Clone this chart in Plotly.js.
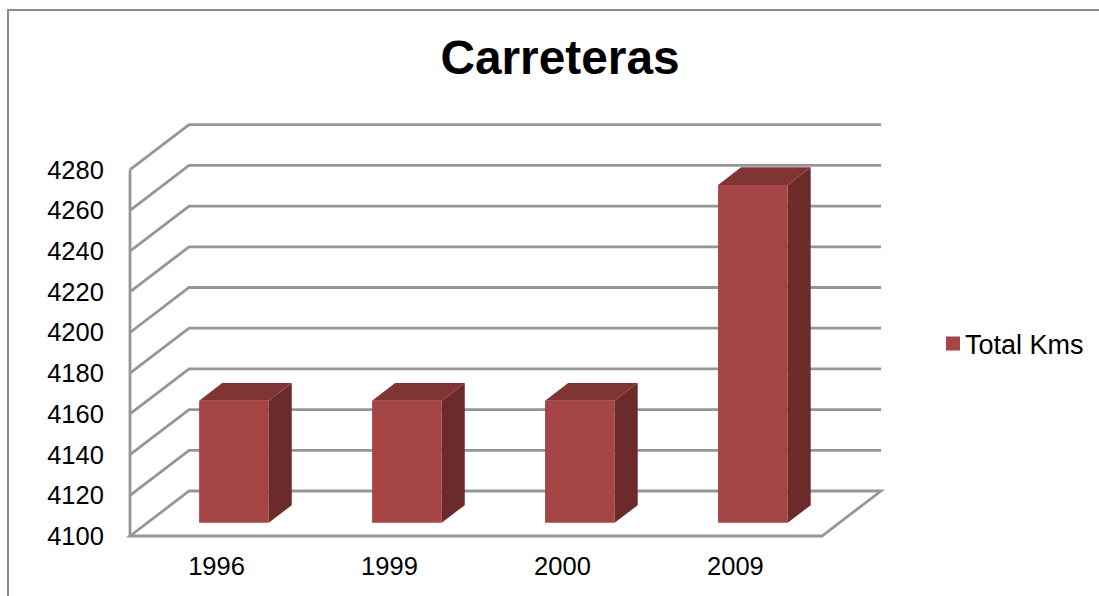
<!DOCTYPE html>
<html>
<head>
<meta charset="utf-8">
<script src="https://cdn.plot.ly/plotly-3.0.1.min.js"></script>
<style>
  html, body { margin: 0; padding: 0; background: #fff; overflow: hidden; }
  #frame { position: absolute; left: 7px; top: 9px; right: 0; bottom: 0;
           border-left: 2px solid #8a8a8a; border-top: 2px solid #8a8a8a; }
  #chart { position: absolute; left: 0; top: 0; width: 1099px; height: 596px; }
</style>
</head>
<body>
<div id="frame"></div>
<div id="chart"></div>
<script>
// Road length per year
const years = ['1996', '1999', '2000', '2009'];
const totalKms = [4160, 4160, 4160, 4266];
const yTicks = [4100, 4120, 4140, 4160, 4180, 4200, 4220, 4240, 4260, 4280];
const seriesName = 'Total Kms';

// Oblique projection: depth 0 is the front plane, depth 1 the back wall
const unitsPerCategory = 172.75;       // pixels per category on the x axis
const unitsPerKm = 2.035;              // pixels per km on the y axis
const depthX = 59 / unitsPerCategory;  // category units
const depthY = 45 / unitsPerKm;        // km units
const px = (x, d) => x + d * depthX;
const py = (v, d) => v + d * depthY;

const baseline = yTicks[0];
const barFront = 0.295, barBack = 0.685, barWidth = 69.5 / unitsPerCategory;
const positions = years.map((_, i) => i);
const xMin = -0.5, xMax = years.length - 0.5;
const pad = 5;  // spare pixels round the plot so edge lines keep their full width

const gridColor = '#969696';
const gridLine = { color: gridColor, width: 2.8 };

// Wall and floor lines sit beneath the bars
const shapes = [];
function pathOf(points, closed) {
  return 'M' + points.map(p => p[0] + ',' + p[1]).join('L') + (closed ? 'Z' : '');
}
yTicks.slice(1).forEach(v => {
  shapes.push({ type: 'path', xref: 'x', yref: 'y', layer: 'below', line: gridLine,
    path: pathOf([[xMin, py(v, 0)], [px(xMin, 1), py(v, 1)], [px(xMax, 1), py(v, 1)]]) });
});
shapes.push({ type: 'path', xref: 'x', yref: 'y', layer: 'below', line: gridLine,
  path: pathOf([[xMin, baseline], [px(xMin, 1), py(baseline, 1)], [px(xMax, 1), py(baseline, 1)], [xMax, baseline]], true) });
shapes.push({ type: 'line', xref: 'x', yref: 'y', layer: 'below', line: gridLine,
  x0: xMin, x1: xMin, y0: baseline, y1: yTicks[yTicks.length - 1] });

// Front faces; the 2px outline also sizes the legend swatch, so the fill is inset by its half width
const outline = 2;
const insetKm = (outline / 2) / unitsPerKm;
const insetCat = outline / unitsPerCategory;
const frontTrace = {
  type: 'bar', name: seriesName, showlegend: true,
  x: positions.map(x => px(x, barFront)),
  y: totalKms.map(v => v - baseline - 2 * insetKm),
  base: totalKms.map(() => py(baseline, barFront) + insetKm),
  width: barWidth - insetCat,
  marker: { color: '#a64545', line: { width: outline, color: '#a64545' } },
  cliponaxis: false, hoverinfo: 'skip'
};

// Side and top faces
function face(points, color) {
  return {
    type: 'scatter', mode: 'lines', fill: 'toself', fillcolor: color,
    x: points.map(p => p[0]), y: points.map(p => p[1]),
    line: { width: 0, color: color }, showlegend: false, hoverinfo: 'skip', cliponaxis: false
  };
}
const faces = [];
positions.forEach((x, i) => {
  const v = totalKms[i], half = barWidth / 2;
  const l = x - half, r = x + half;
  faces.push(face([
    [px(r, barFront), py(baseline, barFront)], [px(r, barBack), py(baseline, barBack)],
    [px(r, barBack), py(v, barBack)], [px(r, barFront), py(v, barFront)]
  ], '#6c2b2b'));
  faces.push(face([
    [px(l, barFront), py(v, barFront)], [px(r, barFront), py(v, barFront)],
    [px(r, barBack), py(v, barBack)], [px(l, barBack), py(v, barBack)]
  ], '#803434'));
});

const sans = '"Liberation Sans", Arial, sans-serif';
const textFont = { family: sans, size: 25.5, color: '#000' };

const layout = {
  width: 1099, height: 596,
  margin: { l: 130 - pad, r: 218 - pad, t: 125 - pad, b: 60 - pad, pad: 0 },
  paper_bgcolor: 'rgba(0,0,0,0)', plot_bgcolor: 'rgba(0,0,0,0)',
  title: {
    text: '<b>Carreteras</b>',
    font: { family: sans, size: 47.8, color: '#000' },
    x: 560 / 1099, xanchor: 'center', xref: 'container',
    y: 1 - 57 / 596, yanchor: 'middle', yref: 'container'
  },
  xaxis: {
    range: [xMin - pad / unitsPerCategory, px(xMax, 1) + pad / unitsPerCategory],
    tickmode: 'array', tickvals: positions, ticktext: years,
    showgrid: false, zeroline: false, showline: false,
    ticks: 'outside', ticklen: 7 - pad, tickcolor: 'rgba(0,0,0,0)', tickfont: textFont, fixedrange: true
  },
  yaxis: {
    range: [baseline - pad / unitsPerKm, baseline + (411 + pad) / unitsPerKm],
    tickmode: 'array', tickvals: yTicks, ticktext: yTicks.map(String),
    showgrid: false, zeroline: false, showline: false,
    ticks: 'outside', ticklen: 20 - pad, tickcolor: 'rgba(0,0,0,0)', tickfont: textFont, fixedrange: true
  },
  legend: {
    xref: 'container', yref: 'container', x: 933 / 1099, y: 1 - 344 / 596,
    xanchor: 'left', yanchor: 'middle', font: { family: sans, size: 27, color: '#000' },
    bgcolor: 'rgba(0,0,0,0)', itemwidth: 30, borderwidth: 0
  },
  shapes: shapes,
  showlegend: true, bargap: 0
};

Plotly.newPlot('chart', [frontTrace].concat(faces), layout, { displayModeBar: false, staticPlot: true })
  .then(() => {
    // Tighten the gap between the legend swatch and its label
    const label = document.querySelector('#chart .legendtext');
    if (label) label.setAttribute('x', 32);
  });
</script>
</body>
</html>
